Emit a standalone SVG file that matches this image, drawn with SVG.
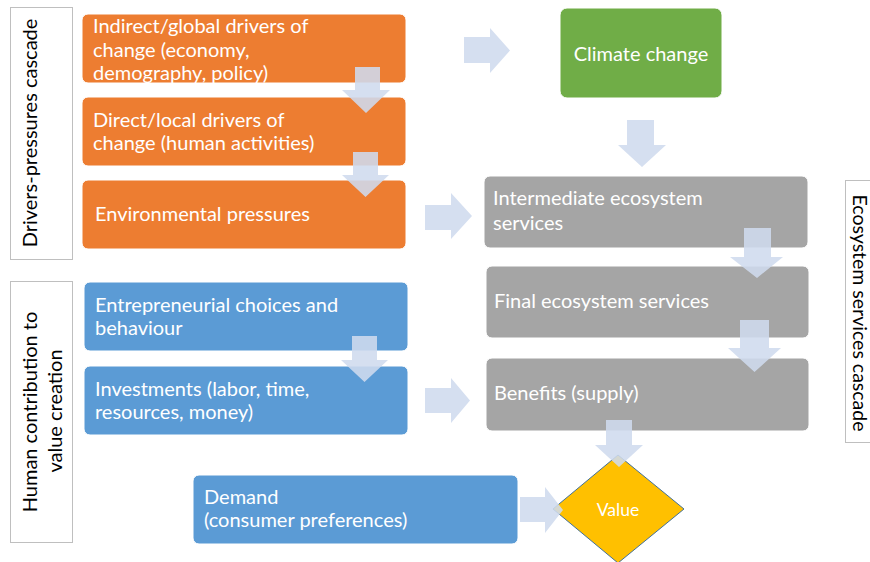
<svg xmlns="http://www.w3.org/2000/svg" width="870" height="562" viewBox="0 0 870 562">
  <style>
    .box { stroke: #ffffff; stroke-width: 1; }
    .orange { fill: #ed7d31; }
    .blue { fill: #5b9bd5; }
    .grey { fill: #a5a5a5; }
    .green { fill: #70ad47; }
    .t { font-family: "Lato", "Liberation Sans", sans-serif; font-size: 20px; fill: #ffffff; }
    .lbl { font-family: "Lato", "Liberation Sans", sans-serif; font-size: 20px; fill: #000000; }
    .frame { fill: #ffffff; stroke: #bfbfbf; stroke-width: 1; }
    .arrow { fill: #cfdbee; fill-opacity: 0.88; }
  </style>

  <rect width="870" height="562" fill="#ffffff"/>

  <!-- side labels -->
  <g id="label-drivers">
    <rect class="frame" x="10.5" y="7.5" width="62" height="252"/>
    <text class="lbl" transform="translate(37,133) rotate(-90)" text-anchor="middle">Drivers-pressures cascade</text>
  </g>
  <g id="label-human">
    <rect class="frame" x="10.5" y="281.5" width="62" height="261"/>
    <text class="lbl" transform="translate(37,412) rotate(-90)" text-anchor="middle">Human contribution to</text>
    <text class="lbl" transform="translate(62,411) rotate(-90)" text-anchor="middle">value creation</text>
  </g>
  <g id="label-ecosystem">
    <rect class="frame" x="845.5" y="180.5" width="40" height="262"/>
    <text class="lbl" transform="translate(853,313) rotate(90)" text-anchor="middle" style="font-size:19.5px">Ecosystem services cascade</text>
  </g>

  <!-- drivers-pressures cascade -->
  <g id="indirect-drivers">
    <rect class="box orange" x="82" y="14" width="324" height="69" rx="6"/>
    <text class="t" x="93" y="33">Indirect/global drivers of</text>
    <text class="t" x="93" y="56.5">change (economy,</text>
    <text class="t" x="93" y="80">demography, policy)</text>
  </g>
  <g id="direct-drivers">
    <rect class="box orange" x="82" y="97" width="324" height="69" rx="6"/>
    <text class="t" x="93" y="127">Direct/local drivers of</text>
    <text class="t" x="93" y="150">change (human activities)</text>
  </g>
  <g id="environmental-pressures">
    <rect class="box orange" x="82" y="180" width="324" height="69" rx="6"/>
    <text class="t" x="95" y="221">Environmental pressures</text>
  </g>

  <!-- human contribution -->
  <g id="entrepreneurial-choices">
    <rect class="box blue" x="84" y="282" width="324" height="69" rx="6"/>
    <text class="t" x="95" y="312">Entrepreneurial choices and</text>
    <text class="t" x="95" y="335">behaviour</text>
  </g>
  <g id="investments">
    <rect class="box blue" x="84" y="366" width="324" height="69" rx="6"/>
    <text class="t" x="95" y="396">Investments (labor, time,</text>
    <text class="t" x="95" y="419">resources, money)</text>
  </g>
  <g id="demand">
    <rect class="box blue" x="193" y="475" width="325" height="69" rx="6"/>
    <text class="t" x="204" y="504">Demand</text>
    <text class="t" x="204" y="527">(consumer preferences)</text>
  </g>

  <!-- ecosystem services cascade -->
  <g id="climate-change">
    <rect class="box green" x="560" y="8" width="162" height="90" rx="7"/>
    <text class="t" x="641" y="61" text-anchor="middle">Climate change</text>
  </g>
  <g id="intermediate-services">
    <rect class="box grey" x="484" y="176" width="324" height="72" rx="6"/>
    <text class="t" x="493" y="205">Intermediate ecosystem</text>
    <text class="t" x="493" y="230">services</text>
  </g>
  <g id="final-services">
    <rect class="box grey" x="486" y="266" width="323" height="72" rx="6"/>
    <text class="t" x="494" y="308">Final ecosystem services</text>
  </g>
  <g id="benefits">
    <rect class="box grey" x="486" y="358" width="323" height="73" rx="6"/>
    <text class="t" x="494" y="400">Benefits (supply)</text>
  </g>
  <g id="value">
    <polygon points="618,455 684,509 618,563 553,509" fill="#ffc000" stroke="#41719c" stroke-width="1"/>
    <text class="t" x="618" y="516" text-anchor="middle" style="font-size:17.5px">Value</text>
  </g>

  <!-- block arrows -->
  <g id="connectors">
    <!-- downward -->
    <path class="arrow" d="M355,67 H380 V90 H390 L366,113 L342,90 H355 Z"/>
    <path class="arrow" d="M353,152 H378 V175 H389 L365.5,197 L342,175 H353 Z"/>
    <path class="arrow" d="M627,120 H654 V145 H666 L642,167 L618,145 H627 Z"/>
    <path class="arrow" d="M744,228 H771 V257 H783 L757,278 L730,257 H744 Z"/>
    <path class="arrow" d="M740,320 H769 V348 H781 L754.5,372 L728,348 H740 Z"/>
    <path class="arrow" d="M606,420 H632 V445 H643 L619,467 L595,445 H606 Z"/>
    <path class="arrow" d="M352,336 H377 V360 H388 L364.5,382 L341,360 H352 Z"/>
    <!-- rightward -->
    <path class="arrow" d="M464,37 H490 V28 L510,50.5 L490,73 V63 H464 Z"/>
    <path class="arrow" d="M425,205 H451 V193 L472,216 L451,239 V230 H425 Z"/>
    <path class="arrow" d="M425,388 H451 V378 L470,400.5 L451,423 V413 H425 Z"/>
    <path class="arrow" d="M520,497 H545 V487 L563,510 L545,533 V522 H520 Z"/>
  </g>
</svg>
